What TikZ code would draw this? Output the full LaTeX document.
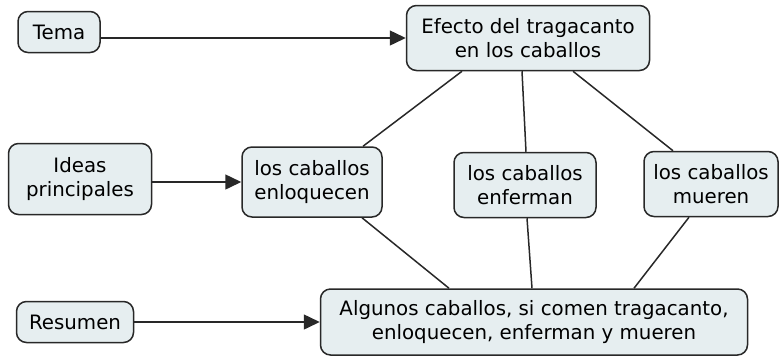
\documentclass[tikz,border=0pt]{standalone}
\usepackage{fontspec}
\setmainfont{DejaVu Sans}
\usetikzlibrary{arrows.meta}
\definecolor{conceptfill}{RGB}{230,238,240}
\definecolor{conceptline}{RGB}{40,40,40}
\tikzstyle{concept}=[draw=conceptline, fill=conceptfill, line width=1.5pt, rounded corners=10pt, align=center, inner sep=0pt, font=\fontsize{19.8}{24}\selectfont]
\tikzstyle{link}=[draw=conceptline, line width=1.5pt]
\tikzstyle{arrowlink}=[link, -{Triangle[length=16pt, width=15pt]}]

\begin{document}
\begin{tikzpicture}[x=1pt, y=-1pt]
		\useasboundingbox (0,0) rectangle (779,357);
		\node[concept, minimum width=82pt, minimum height=41pt] (tema) at (59,32) {Tema};
		\node[concept, minimum width=243pt, minimum height=65pt] (efecto) at (528,38) {Efecto del tragacanto\\en los caballos};
		\node[concept, minimum width=143pt, minimum height=71pt] (ideas) at (80,179) {Ideas\\principales};
		\node[concept, minimum width=140pt, minimum height=70pt] (enloquecen) at (312,182) {los caballos\\enloquecen};
		\node[concept, minimum width=142pt, minimum height=65pt] (enferman) at (525,185) {los caballos\\enferman};
		\node[concept, minimum width=134pt, minimum height=65pt] (mueren) at (711,184) {los caballos\\mueren};
		\node[concept, minimum width=117pt, minimum height=41pt] (resumen) at (75,322) {Resumen};
		\node[concept, minimum width=427pt, minimum height=66pt] (algunos) at (534,322) {Algunos caballos, si comen tragacanto,\\enloquecen, enferman y mueren};

		% tema down to the three ideas, ideas down to the summary
		\foreach \x / \p / \q in {enloquecen/-66/51, enferman/-6/1, mueren/45/-38}
		\draw[link] ([xshift=\p pt]efecto.south) -- ([xshift=\q pt]\x.north);
		\foreach \x / \p / \q in {enloquecen/50/-85, enferman/2/-2, mueren/-22/100}
		\draw[link] ([xshift=\p pt]\x.south) -- ([xshift=\q pt]algunos.north);

		\draw[arrowlink] (efecto.west -| tema.east) -- (efecto.west);
		\draw[arrowlink] (enloquecen.west -| ideas.east) -- (enloquecen.west);
		\draw[arrowlink] (resumen) -- (algunos);

	\end{tikzpicture}
\end{document}
